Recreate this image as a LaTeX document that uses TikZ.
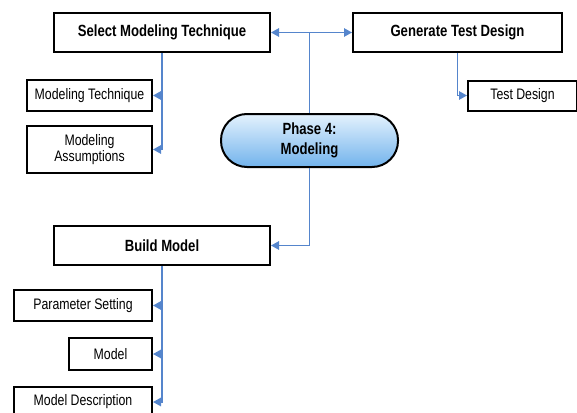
\documentclass[tikz,border=0pt]{standalone}
\usepackage{fontspec}
\setmainfont{Liberation Sans}[FakeStretch=0.81]
\usetikzlibrary{arrows.meta}
\definecolor{connblue}{HTML}{5585CC}
\definecolor{phtop}{HTML}{E4F2FD}
\definecolor{phbot}{HTML}{72B3EC}
\begin{document}
\begin{tikzpicture}[x=1pt,y=-1pt,
  box/.style={draw=black, line width=2pt, fill=white, inner sep=0pt, align=center,
    font=\fontsize{15.2}{16}\selectfont},
  mainbox/.style={box, font=\fontsize{16.2}{18}\selectfont\bfseries},
  cline/.style={draw=connblue, line width=1.3pt},
  arr/.style={cline, -{Triangle[length=8pt,width=8.5pt]}},
  barr/.style={cline, {Triangle[length=8pt,width=8.5pt]}-{Triangle[length=8pt,width=8.5pt]}}]
\useasboundingbox (0,0) rectangle (577,412);

\node[mainbox, minimum width=216pt, minimum height=39pt] (select) at (162,32.5) {Select Modeling Technique};
\node[mainbox, minimum width=209pt, minimum height=39pt] (gen) at (457.5,32.5) {Generate Test Design};
\node[box, minimum width=125pt, minimum height=31pt] (mt) at (89.5,95.5) {Modeling Technique};
\node[box, minimum width=125pt, minimum height=47pt] (ma) at (89.5,149.5) {Modeling\\Assumptions};
\node[box, minimum width=109pt, minimum height=30pt] (td) at (522.5,95.5) {Test Design};
\node[draw=black, line width=2pt, rounded corners=26pt, top color=phtop, bottom color=phbot,
  minimum width=177pt, minimum height=53pt, align=center, inner sep=0pt,
  font=\fontsize{16.2}{20}\selectfont\bfseries] (phase) at (309.5,140.5) {Phase 4:\\Modeling};
\node[mainbox, minimum width=216pt, minimum height=39pt] (build) at (162,245.5) {Build Model};
\node[box, minimum width=138pt, minimum height=31pt] (ps) at (83,305.5) {Parameter Setting};
\node[box, minimum width=83pt, minimum height=32pt] (model) at (110.5,354) {Model};
\node[box, minimum width=138pt, minimum height=30pt] (md) at (83,402) {Model Description};

% top connectors
\draw[barr] (select.east) -- (gen.west);
\draw[cline] (phase.north) -- (phase.north |- select.east);
\draw[arr] (phase.south) -- (phase.south |- build.east) -- (build.east);

% select branches
\draw[arr] (select.south) -- (select.south |- ma.east) -- (ma.east);
\draw[arr] (select.south |- mt.east) -- (mt.east);

% generate branch
\draw[arr] (gen.south) -- (gen.south |- td.west) -- (td.west);

% build branches
\draw[arr] (build.south) -- (build.south |- md.east) -- (md.east);
\draw[arr] (build.south |- ps.east) -- (ps.east);
\draw[arr] (build.south |- model.east) -- (model.east);
\end{tikzpicture}
\end{document}
